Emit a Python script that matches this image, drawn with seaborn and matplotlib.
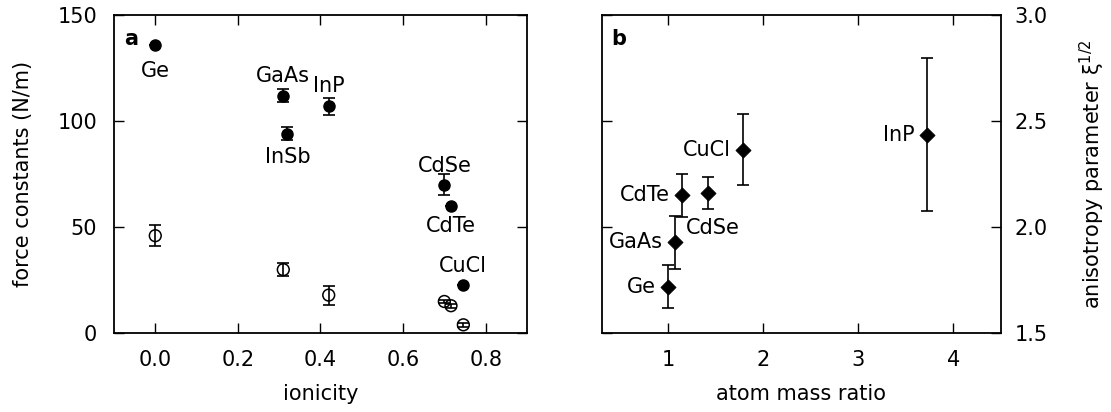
import numpy as np
import pandas as pd
import matplotlib
matplotlib.use('Agg')
import matplotlib.pyplot as plt
import seaborn as sns

# panel a: force constants vs ionicity
mat_a = ['Ge', 'GaAs', 'InSb', 'InP', 'CdSe', 'CdTe', 'CuCl']
ionicity = [0.0, 0.31, 0.32, 0.42, 0.70, 0.716, 0.746]
k_high = [136, 112, 94, 107, 70, 60, 23]
k_high_err = [0, 3, 3, 4, 5, 0, 0]
ion_low = [0.0, 0.31, 0.42, 0.70, 0.716, 0.746]
k_low = [46, 30, 18, 15, 13, 4]
k_low_err = [5, 3, 4.5, 0.5, 1, 1]

# panel b: anisotropy vs atom mass ratio
mat_b = ['Ge', 'GaAs', 'CdTe', 'CdSe', 'CuCl', 'InP']
mass_ratio = [1.0, 1.07, 1.14, 1.42, 1.79, 3.72]
aniso = [1.72, 1.93, 2.15, 2.16, 2.365, 2.435]
aniso_err = [0.10, 0.125, 0.10, 0.076, 0.167, 0.36]

sns.set_style('ticks')
plt.rcParams['font.family'] = ['DejaVu Sans']
plt.rcParams['font.size'] = 15
plt.rcParams['text.color'] = 'black'
plt.rcParams['axes.labelcolor'] = 'black'

fig = plt.figure(figsize=(11.11, 4.12), dpi=100)
ax1 = fig.add_axes([0.1026, 0.191, 0.3717, 0.7726])
ax2 = fig.add_axes([0.5416, 0.191, 0.3591, 0.7726])

df_a = pd.DataFrame({'ionicity': ionicity, 'k': k_high, 'mat': mat_a})
df_l = pd.DataFrame({'ionicity': ion_low, 'k': k_low})
df_b = pd.DataFrame({'ratio': mass_ratio, 'xi': aniso, 'mat': mat_b})

# panel a
ax1.errorbar(ionicity, k_high, yerr=k_high_err, fmt='none', ecolor='black',
             elinewidth=1.2, capsize=4, capthick=1.2)
ax1.errorbar(ion_low, k_low, yerr=k_low_err, fmt='none', ecolor='black',
             elinewidth=1.2, capsize=4, capthick=1.2)
sns.scatterplot(data=df_a, x='ionicity', y='k', ax=ax1, color='black',
                s=64, edgecolor='black', linewidth=1, zorder=3)
sns.scatterplot(data=df_l, x='ionicity', y='k', ax=ax1, facecolor='none',
                s=72, edgecolor='black', linewidth=1.1, zorder=3)

offs_a = {'Ge': -26, 'GaAs': 20, 'InSb': -23, 'InP': 20, 'CdSe': 19,
          'CdTe': -20, 'CuCl': 19}
for m, x, y in zip(mat_a, ionicity, k_high):
    ax1.annotate(m, (x, y), xytext=(0, offs_a[m]), textcoords='offset pixels',
                 ha='center', va='center', fontsize=15, color='black')

ax1.set_xlim(-0.1, 0.9)
ax1.set_ylim(0, 150)
ax1.set_xticks([0.0, 0.2, 0.4, 0.6, 0.8])
ax1.set_yticks([0, 50, 100, 150])
ax1.set_xlabel('ionicity', labelpad=10)
ax1.set_ylabel('force constants (N/m)', labelpad=18)
ax1.text(0.025, 0.955, 'a', transform=ax1.transAxes, fontweight='bold',
         fontsize=15, va='top', ha='left', color='black')

# panel b
ax2.errorbar(mass_ratio, aniso, yerr=aniso_err, fmt='none', ecolor='black',
             elinewidth=1.2, capsize=4, capthick=1.2)
sns.scatterplot(data=df_b, x='ratio', y='xi', ax=ax2, color='black',
                marker='D', s=60, edgecolor='black', linewidth=0.5, zorder=3)
for m, x, y in zip(mat_b, mass_ratio, aniso):
    if m == 'CdSe':
        ax2.annotate(m, (x, y), xytext=(-22, -35), textcoords='offset pixels',
                     ha='left', va='center', fontsize=15, color='black')
    else:
        ax2.annotate(m, (x, y), xytext=(-12, 0), textcoords='offset pixels',
                     ha='right', va='center', fontsize=15, color='black')

ax2.set_xlim(0.3, 4.5)
ax2.set_ylim(1.5, 3.0)
ax2.set_xticks([1, 2, 3, 4])
ax2.set_yticks([1.5, 2.0, 2.5, 3.0])
ax2.set_xlabel('atom mass ratio', labelpad=10)
ax2.yaxis.set_label_position('right')
ax2.set_ylabel(r'anisotropy parameter $\mathregular{\xi^{1/2}}$', labelpad=22)
ax2.text(0.025, 0.955, 'b', transform=ax2.transAxes, fontweight='bold',
         fontsize=15, va='top', ha='left', color='black')

for ax in (ax1, ax2):
    for sp in ax.spines.values():
        sp.set_visible(True)
        sp.set_linewidth(1.3)
        sp.set_color('black')
    ax.tick_params(direction='in', length=7, width=1, top=True, right=True,
                   labelsize=15, pad=12, colors='black')
ax2.tick_params(axis='y', labelleft=False, labelright=True, pad=10)

fig.savefig('out.png', dpi=100)
